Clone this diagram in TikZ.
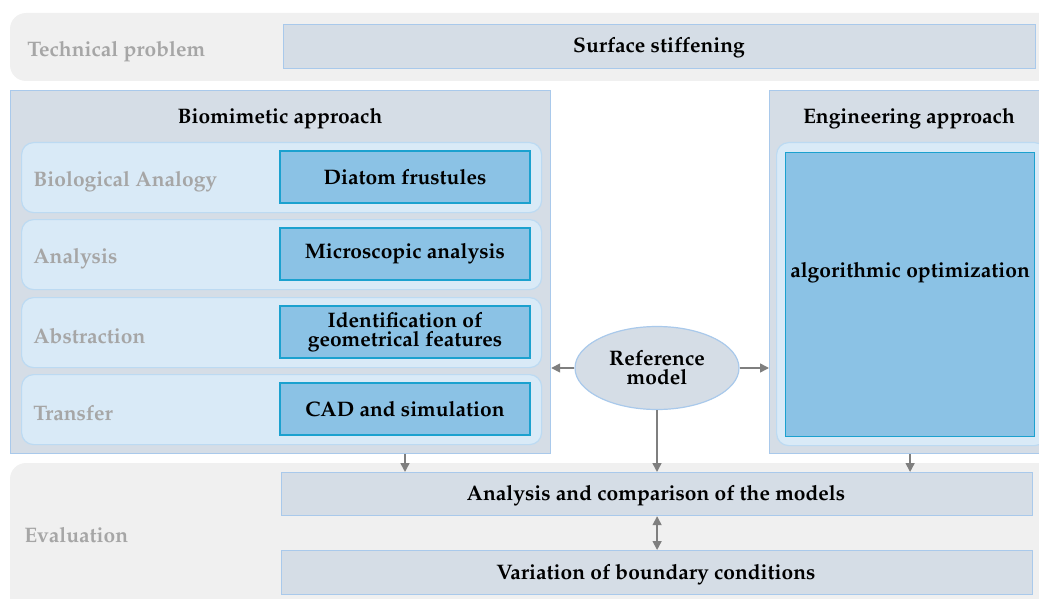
\documentclass[tikz,border=0pt]{standalone}
\usepackage[T1]{fontenc}
\usepackage{mathpazo}
\usetikzlibrary{shapes.geometric,arrows.meta}
\definecolor{bandgray}{HTML}{F0F0F0}
\definecolor{boxgray}{HTML}{D5DDE6}
\definecolor{edgeblue}{HTML}{A9C9EB}
\definecolor{rowblue}{HTML}{D9EAF7}
\definecolor{rowedge}{HTML}{BCDAF2}
\definecolor{darkfill}{HTML}{8BC2E5}
\definecolor{darkedge}{HTML}{1BA1CF}
\definecolor{labelgray}{HTML}{A6A6A6}
\definecolor{arrowgray}{HTML}{7F7F7F}
\begin{document}
\begin{tikzpicture}[x=0.5pt, y=-0.5pt,
  every node/.style={font=\fontsize{10.5}{9.5}\selectfont\bfseries, inner sep=0pt},
  band/.style={fill=bandgray, rounded corners=8pt},
  panel/.style={draw=edgeblue, fill=boxgray, line width=0.6pt, anchor=north west},
  rowbox/.style={draw=rowedge, fill=rowblue, line width=0.6pt, rounded corners=6pt, anchor=north west,
    minimum width=260pt, minimum height=35pt},
  darkbox/.style={draw=darkedge, fill=darkfill, line width=0.6pt, align=center,
    minimum width=125pt, minimum height=26pt},
  stage/.style={text=labelgray, anchor=west},
  tip/.style={Triangle[length=4.5pt,width=4.5pt]},
  link/.style={draw=arrowgray, line width=0.8pt, -{Triangle[length=4.5pt,width=4.5pt]}}]
  \useasboundingbox (0,0) rectangle (1039,599);
  \clip (0,0) rectangle (1039,599);
  % grey bands
  \fill[band] (10,13) rectangle (1060,81);
  \fill[band] (10,463) rectangle (1060,620);
  % technical problem
  \node[stage] (tech) at (27,52) {Technical problem};
  \node[panel, minimum width=376pt, minimum height=22pt] (surf) at (283,24) {};
  \node (surftext) at (659,48) {Surface stiffening};
  % biomimetic approach
  \node[panel, minimum width=270pt, minimum height=181.5pt] (bio) at (10,90) {};
  \node (biotitle) at (280,119) {Biomimetic approach};
  \node[rowbox] (row1) at (21,142) {};
  \node[rowbox] (row2) at (21,219) {};
  \node[rowbox] (row3) at (21,297) {};
  \node[rowbox] (row4) at (21,374) {};
  \node[stage] (lab1) at (33,182) {Biological Analogy};
  \node[stage] (lab2) at (33,259) {Analysis};
  \node[stage] (lab3) at (33,336) {Abstraction};
  \node[stage] (lab4) at (33,413) {Transfer};
  \node[darkbox] (diatom) at (405,177) {Diatom frustules};
  \node[darkbox] (micro) at (405,254) {Microscopic analysis};
  \node[darkbox] (ident) at (405,332) {Identification of\\geometrical features};
  \node[darkbox] (cad) at (405,409) {CAD and simulation};
  % engineering approach
  \node[panel, minimum width=140pt, minimum height=181.5pt] (eng) at (769,90) {};
  \node (engtitle) at (909,119) {Engineering approach};
  \node[rowbox, minimum width=135pt, minimum height=151.5pt] (engrow) at (776,142) {};
  \node[darkbox, anchor=north west, minimum width=124.5pt, minimum height=142pt,
    label={[yshift=11pt]center:algorithmic optimization}] (opt) at (785,152) {};
  % reference model
  \node[ellipse, draw=edgeblue, fill=boxgray, line width=0.6pt, align=center,
    minimum width=82pt, minimum height=41.5pt] (ref) at (657,368) {Reference\\model};
  % evaluation
  \node[stage] (eval) at (24,535) {Evaluation};
  \node[panel, minimum width=375.5pt, minimum height=21.5pt] (cmp) at (281,472) {};
  \node (cmptext) at (656,496) {Analysis and comparison of the models};
  \node[panel, minimum width=375.5pt, minimum height=22pt] (var) at (281,550) {};
  \node (vartext) at (656,575) {Variation of boundary conditions};
  % connectors
  \draw[link] (ref.west) -- (ref.west -| bio.east);
  \draw[link] (ref.east) -- (ref.east -| eng.west);
  \draw[link] (ref.south) -- (ref.south |- cmp.north);
  \draw[link] (cad |- bio.south) -- (cad |- cmp.north);
  \draw[link] (opt |- eng.south) -- (opt |- cmp.north);
  \draw[link, {Triangle[length=4.5pt,width=4.5pt]}-{Triangle[length=4.5pt,width=4.5pt]}] (cmp.south) -- (var.north);
\end{tikzpicture}
\end{document}
